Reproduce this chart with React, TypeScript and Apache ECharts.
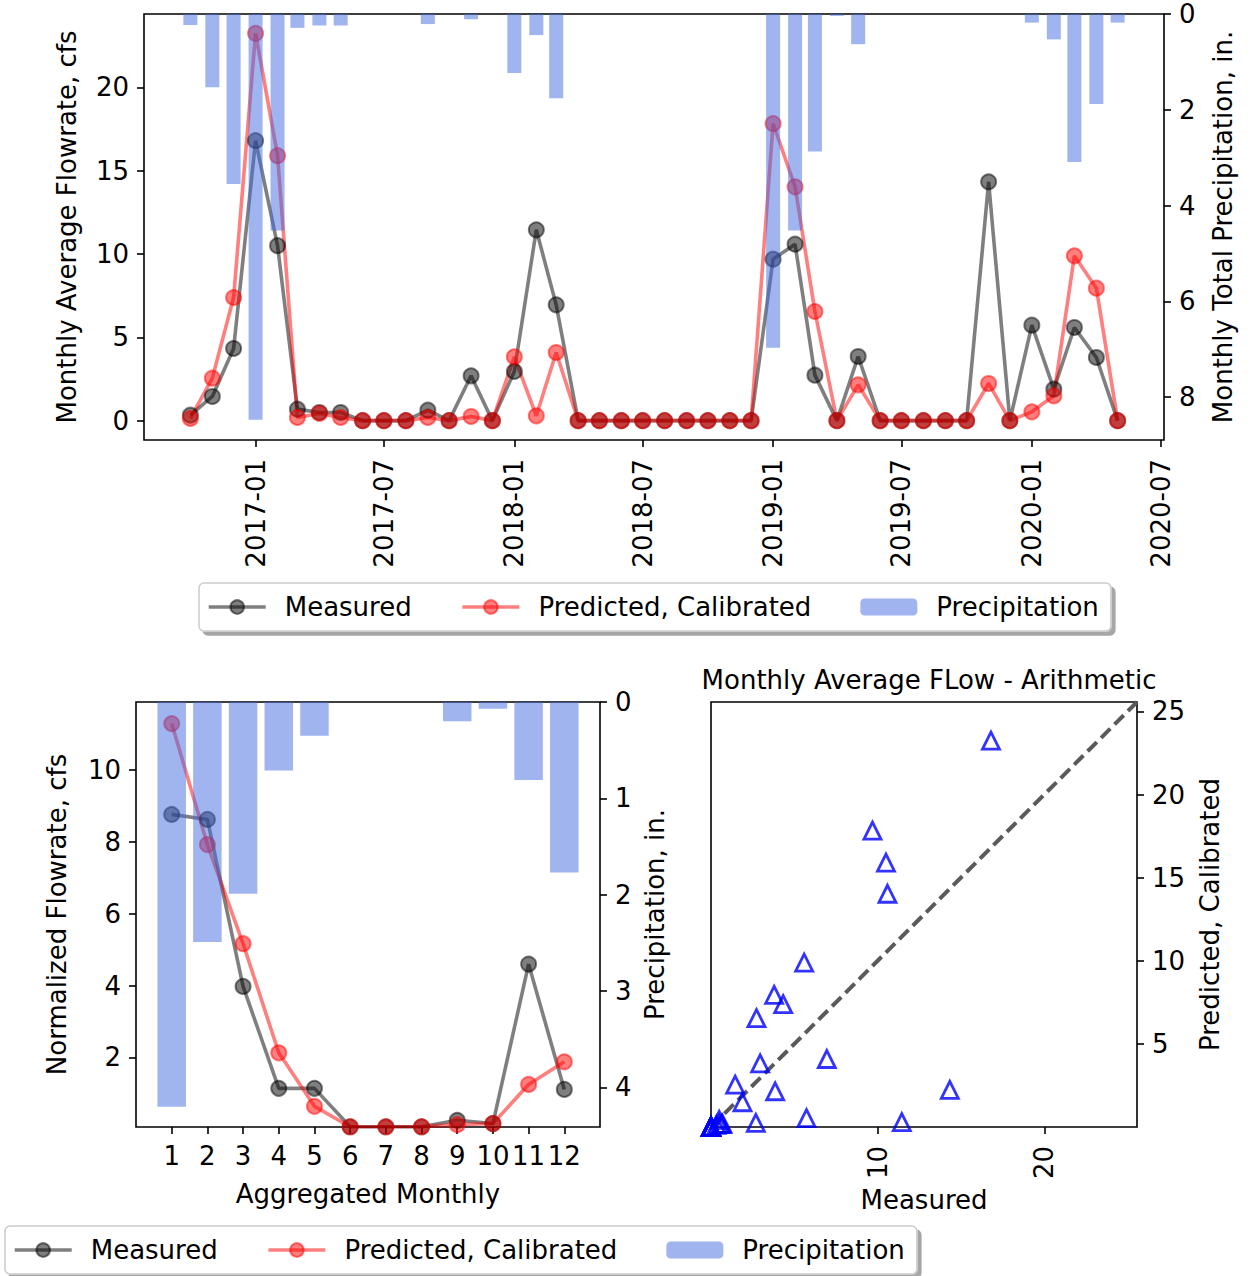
import React, { useEffect, useRef } from 'react';
import * as echarts from 'echarts';

// ---------- data ----------
const months = [
  '2016-10', '2016-11', '2016-12',
  '2017-01', '2017-02', '2017-03', '2017-04', '2017-05', '2017-06', '2017-07', '2017-08', '2017-09', '2017-10', '2017-11', '2017-12',
  '2018-01', '2018-02', '2018-03', '2018-04', '2018-05', '2018-06', '2018-07', '2018-08', '2018-09', '2018-10', '2018-11', '2018-12',
  '2019-01', '2019-02', '2019-03', '2019-04', '2019-05', '2019-06', '2019-07', '2019-08', '2019-09', '2019-10', '2019-11', '2019-12',
  '2020-01', '2020-02', '2020-03', '2020-04', '2020-05',
];
const measured = [
  0.33, 1.45, 4.33,
  16.8, 10.5, 0.69, 0.49, 0.49, 0, 0, 0, 0.63, 0, 2.69, 0,
  2.95, 11.45, 6.95, 0, 0, 0, 0, 0, 0, 0, 0, 0,
  9.69, 10.59, 2.73, 0, 3.85, 0, 0, 0, 0, 0, 14.33, 0,
  5.73, 1.89, 5.59, 3.79, 0,
];
const predicted = [
  0.13, 2.55, 7.39,
  23.24, 15.9, 0.19, 0.43, 0.19, 0, 0, 0, 0.19, 0, 0.25, 0,
  3.83, 0.29, 4.09, 0, 0, 0, 0, 0, 0, 0, 0, 0,
  17.83, 14.03, 6.55, 0, 2.15, 0, 0, 0, 0, 0, 2.23, 0,
  0.53, 1.49, 9.89, 7.95, 0,
];
const precipitation = [
  0.23, 1.53, 3.55,
  8.47, 4.52, 0.29, 0.24, 0.24, 0, 0, 0, 0.21, 0, 0.11, 0,
  1.23, 0.44, 1.76, 0, 0, 0, 0, 0, 0, 0, 0, 0,
  6.97, 4.52, 2.87, 0.04, 0.63, 0, 0, 0, 0, 0, 0, 0,
  0.18, 0.53, 3.09, 1.88, 0.18,
];

const aggMonths = [1, 2, 3, 4, 5, 6, 7, 8, 9, 10, 11, 12];
const aggMeasured = [8.77, 8.63, 3.98, 1.14, 1.14, 0.07, 0.07, 0.07, 0.25, 0.16, 4.6, 1.11];
const aggPredicted = [11.3, 7.93, 5.17, 2.13, 0.64, 0.07, 0.07, 0.07, 0.13, 0.16, 1.25, 1.88];
const aggPrecip = [4.2, 2.49, 1.99, 0.71, 0.35, 0, 0, 0, 0.2, 0.07, 0.81, 1.77];

const dateTicks = ['2017-01', '2017-07', '2018-01', '2018-07', '2019-01', '2019-07', '2020-01', '2020-07'];
const flowTicks = [0, 5, 10, 15, 20];
const precipTicks = [0, 2, 4, 6, 8];
const aggFlowTicks = [2, 4, 6, 8, 10];
const aggPrecipTicks = [0, 1, 2, 3, 4];
const scatterXTicks = [10, 20];
const scatterYTicks = [5, 10, 15, 20, 25];

const legendNames = ['Measured', 'Predicted, Calibrated', 'Precipitation'];

// ---------- helpers ----------
const FONT = 'DejaVu Sans';
const toTs = (s: string) => {
  const [y, m] = s.split('-').map(Number);
  return Date.UTC(y, m - 1, 1);
};
const fmtTs = (v: number) => {
  const d = new Date(v);
  return `${d.getUTCFullYear()}-${String(d.getUTCMonth() + 1).padStart(2, '0')}`;
};

const BLACK = 'rgba(0,0,0,0.5)';
const RED = 'rgba(255,0,0,0.5)';
const BLUE_BAR = 'rgba(65,105,225,0.5)';

export default function App() {
  const ref = useRef<HTMLDivElement>(null);

  useEffect(() => {
    if (!ref.current) return;
    const chart = echarts.init(ref.current, undefined, { renderer: 'svg' });

    const ts = months.map(toTs);
    const span = ts[ts.length - 1] - ts[0];
    const xMin = ts[0] - 0.05 * span;
    const xMax = ts[ts.length - 1] + 0.05 * span;

    const flowMax = Math.max(...measured, ...predicted);
    const flowMin = Math.min(...measured, ...predicted);
    const flowRange = flowMax - flowMin;
    const precipMax = Math.max(...precipitation) * 1.05;
    const aggPrecipMax = Math.max(...aggPrecip) * 1.05;
    const lim = flowMax * 1.1;

    const txt = { fontFamily: FONT, fontSize: 26, color: '#000' };
    const tick = { show: true, inside: false, length: 7, lineStyle: { color: '#000', width: 1.6 } };
    const noLine = { show: false, onZero: false };

    const lineSeries = (name: string, color: string, xi: number, yi: number, data: number[][], z = 2) => ({
      type: 'line',
      name,
      xAxisIndex: xi,
      yAxisIndex: yi,
      data,
      z,
      symbol: 'circle',
      symbolSize: 15,
      showSymbol: true,
      clip: true,
      lineStyle: { color, width: 3.6 },
      itemStyle: { color, borderColor: color, borderWidth: 2 },
      emphasis: { disabled: true },
    });

    const legendBase = {
      data: legendNames,
      selectedMode: false,
      itemWidth: 57,
      itemHeight: 17,
      itemGap: 49,
      padding: [11, 12, 11, 8],
      borderColor: '#cccccc',
      borderWidth: 1.5,
      borderRadius: 5,
      backgroundColor: '#fff',
      shadowColor: 'rgba(0,0,0,0.35)',
      shadowOffsetX: 4,
      shadowOffsetY: 4,
      shadowBlur: 0,
      lineStyle: { width: 3.4 },
      textStyle: { ...txt, padding: [0, 0, 0, 14] },
    };

    const option: any = {
      animation: false,
      backgroundColor: '#fff',
      textStyle: { fontFamily: FONT },
      title: {
        text: 'Monthly Average FLow - Arithmetic',
        left: 924,
        top: 662,
        textAlign: 'center',
        textStyle: { ...txt, fontSize: 26, fontWeight: 'normal' },
      },
      legend: [
        { ...legendBase, left: 199, top: 583 },
        { ...legendBase, left: 5, top: 1226 },
      ],
      grid: [
        { left: 144, top: 14, width: 1020, height: 426, show: true, borderColor: '#000', borderWidth: 1.6, backgroundColor: 'transparent', outerBoundsMode: 'none' },
        { left: 136, top: 702, width: 464, height: 425, show: true, borderColor: '#000', borderWidth: 1.6, backgroundColor: 'transparent', outerBoundsMode: 'none' },
        { left: 711, top: 702, width: 426, height: 425, show: true, borderColor: '#000', borderWidth: 1.6, backgroundColor: 'transparent', outerBoundsMode: 'none' },
      ],
      xAxis: [
        {
          type: 'value',
          gridIndex: 0,
          position: 'bottom',
          min: xMin,
          max: xMax,
          axisLine: noLine,
          splitLine: { show: false },
          axisTick: { ...tick, customValues: dateTicks.map(toTs) },
          axisLabel: { ...txt, rotate: 90, margin: 19, customValues: dateTicks.map(toTs), formatter: (v: number) => fmtTs(v) },
        },
        {
          type: 'value',
          gridIndex: 1,
          position: 'bottom',
          min: 0,
          max: 13,
          axisLine: noLine,
          splitLine: { show: false },
          axisTick: { ...tick, customValues: aggMonths },
          axisLabel: { ...txt, margin: 16, customValues: aggMonths },
          name: 'Aggregated Monthly',
          nameLocation: 'middle',
          nameGap: 54,
          nameTextStyle: txt,
        },
        {
          type: 'value',
          gridIndex: 2,
          position: 'bottom',
          min: 0,
          max: lim,
          axisLine: noLine,
          splitLine: { show: false },
          axisTick: { ...tick, customValues: scatterXTicks },
          axisLabel: { ...txt, rotate: 90, margin: 19, customValues: scatterXTicks },
          name: 'Measured',
          nameLocation: 'middle',
          nameGap: 60,
          nameTextStyle: txt,
        },
      ],
      yAxis: [
        {
          type: 'value',
          gridIndex: 0,
          position: 'left',
          min: flowMin - 0.05 * flowRange,
          max: flowMax + 0.05 * flowRange,
          axisLine: noLine,
          splitLine: { show: false },
          axisTick: { ...tick, customValues: flowTicks },
          axisLabel: { ...txt, margin: 15, customValues: flowTicks },
          name: 'Monthly Average Flowrate, cfs',
          nameLocation: 'middle',
          nameRotate: 90,
          nameGap: 64,
          nameTextStyle: txt,
        },
        {
          type: 'value',
          gridIndex: 0,
          position: 'right',
          inverse: true,
          min: 0,
          max: precipMax,
          axisLine: noLine,
          splitLine: { show: false },
          axisTick: { ...tick, customValues: precipTicks },
          axisLabel: { ...txt, margin: 15, customValues: precipTicks },
          name: 'Monthly Total Precipitation, in.',
          nameLocation: 'middle',
          nameRotate: 90,
          nameGap: 46,
          nameTextStyle: txt,
        },
        {
          type: 'value',
          gridIndex: 1,
          position: 'left',
          min: 0.064,
          max: 11.9,
          axisLine: noLine,
          splitLine: { show: false },
          axisTick: { ...tick, customValues: aggFlowTicks },
          axisLabel: { ...txt, margin: 15, customValues: aggFlowTicks },
          name: 'Normalized Flowrate, cfs',
          nameLocation: 'middle',
          nameRotate: 90,
          nameGap: 66,
          nameTextStyle: txt,
        },
        {
          type: 'value',
          gridIndex: 1,
          position: 'right',
          inverse: true,
          min: 0,
          max: aggPrecipMax,
          axisLine: noLine,
          splitLine: { show: false },
          axisTick: { ...tick, customValues: aggPrecipTicks },
          axisLabel: { ...txt, margin: 15, customValues: aggPrecipTicks },
          name: 'Precipitation, in.',
          nameLocation: 'middle',
          nameRotate: 90,
          nameGap: 42,
          nameTextStyle: txt,
        },
        {
          type: 'value',
          gridIndex: 2,
          position: 'right',
          min: 0,
          max: lim,
          axisLine: noLine,
          splitLine: { show: false },
          axisTick: { ...tick, customValues: scatterYTicks },
          axisLabel: { ...txt, margin: 15, customValues: scatterYTicks },
          name: 'Predicted, Calibrated',
          nameLocation: 'middle',
          nameRotate: 90,
          nameGap: 60,
          nameTextStyle: txt,
        },
      ],
      series: [
        lineSeries('Measured', BLACK, 0, 0, ts.map((t, i) => [t, measured[i]])),
        lineSeries('Predicted, Calibrated', RED, 0, 0, ts.map((t, i) => [t, predicted[i]])),
        {
          type: 'bar',
          name: 'Precipitation',
          xAxisIndex: 0,
          yAxisIndex: 1,
          z: 3,
          barWidth: 14,
          data: ts.map((t, i) => [t, precipitation[i]]),
          itemStyle: { color: BLUE_BAR },
          emphasis: { disabled: true },
        },
        lineSeries('Measured', BLACK, 1, 2, aggMonths.map((m, i) => [m, aggMeasured[i]])),
        lineSeries('Predicted, Calibrated', RED, 1, 2, aggMonths.map((m, i) => [m, aggPredicted[i]])),
        {
          type: 'bar',
          name: 'Precipitation',
          xAxisIndex: 1,
          yAxisIndex: 3,
          z: 3,
          barWidth: 28.5,
          data: aggMonths.map((m, i) => [m, aggPrecip[i]]),
          itemStyle: { color: BLUE_BAR },
          emphasis: { disabled: true },
        },
        {
          type: 'line',
          name: '1:1',
          xAxisIndex: 2,
          yAxisIndex: 4,
          data: [[0, 0], [lim, lim]],
          showSymbol: false,
          symbol: 'none',
          lineStyle: { color: '#5a5a5a', width: 4, type: [13, 6] },
          z: 1,
          emphasis: { disabled: true },
        },
        {
          type: 'scatter',
          name: 'Measured vs Predicted',
          xAxisIndex: 2,
          yAxisIndex: 4,
          data: measured.map((m, i) => [m, predicted[i]]),
          symbol: 'triangle',
          symbolSize: 17,
          itemStyle: { color: 'transparent', borderColor: '#0000ff', borderWidth: 2.8 },
          z: 2,
          emphasis: { disabled: true },
        },
      ],
    };

    chart.setOption(option);
    return () => chart.dispose();
  }, []);

  return (
    <div
      ref={ref}
      style={{ position: 'fixed', left: 0, top: 0, width: 1251, height: 1276, background: '#fff' }}
    />
  );
}
